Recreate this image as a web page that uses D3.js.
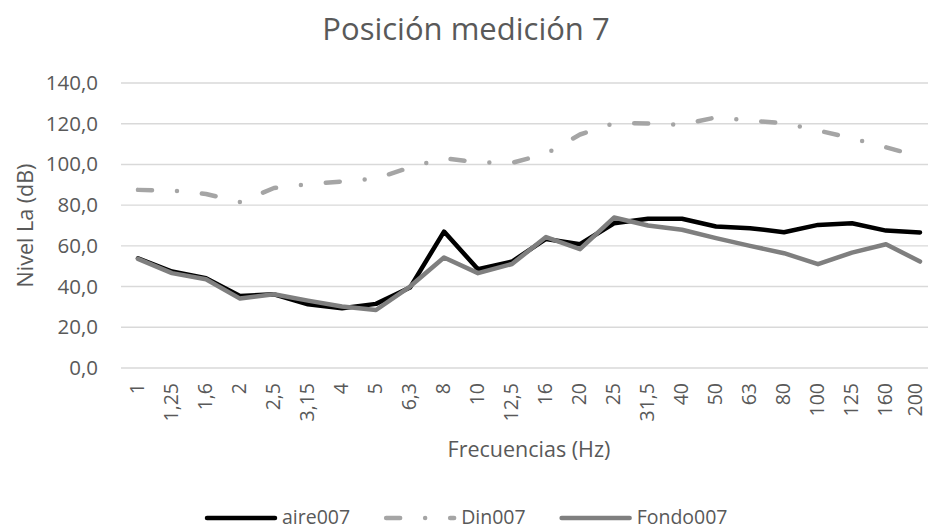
<!DOCTYPE html>
<html>
<head>
<meta charset="utf-8">
<script src="https://cdn.jsdelivr.net/npm/d3@7"></script>
<style>
  body { margin: 0; background: #fff; }
  svg { display: block; font-family: 'Open Sans', sans-serif; }
</style>
</head>
<body>
<svg id="chart" width="928" height="529"></svg>
<script>
// frequency bands (Hz), as labelled on the chart
const frequencies = ['1', '1,25', '1,6', '2', '2,5', '3,15', '4', '5', '6,3', '8', '10', '12,5', '16', '20', '25', '31,5', '40', '50', '63', '80', '100', '125', '160', '200'];

const aire007 = [53.9, 47.4, 44.1, 35.4, 36.2, 31.3, 29.3, 31.5, 39.5, 67.0, 48.5, 52.3, 63.4, 60.8, 71.1, 73.3, 73.3, 69.5, 68.7, 66.7, 70.3, 71.1, 67.5, 66.6];
const din007 = [87.5, 87.2, 85.5, 81.5, 88.4, 90.3, 91.6, 93.1, 98.5, 103.1, 101.0, 100.8, 105.2, 114.7, 120.3, 120.1, 119.5, 123.1, 121.5, 120.3, 116.7, 112.8, 108.4, 103.9];
const fondo007 = [53.6, 46.6, 43.6, 34.1, 36.2, 33.1, 30.2, 28.5, 40.0, 54.3, 46.6, 51.1, 64.3, 58.4, 73.9, 70.0, 67.9, 63.8, 60.0, 56.4, 51.0, 56.7, 60.8, 52.3];

const yTicks = [0, 20, 40, 60, 80, 100, 120, 140];

const series = [
  { name: 'aire007', values: aire007, color: '#000000', dash: null },
  { name: 'Din007', values: din007, color: '#a5a5a5', dash: '14 25 0 25' },
  { name: 'Fondo007', values: fondo007, color: '#7f7f7f', dash: null },
];

const textColor = '#595959';
const plot = { left: 121, right: 937, top: 83, bottom: 368 };

const svg = d3.select('#chart');

const x = d3.scaleBand().domain(frequencies).range([plot.left, plot.right]);
const y = d3.scaleLinear().domain([0, 140]).range([plot.bottom, plot.top]);

const fmt = (v) => v.toFixed(1).replace('.', ',');

// gridlines
svg
  .append('g')
  .selectAll('line')
  .data(yTicks)
  .join('line')
  .attr('x1', plot.left)
  .attr('x2', plot.right)
  .attr('y1', (d) => y(d))
  .attr('y2', (d) => y(d))
  .attr('stroke', '#d9d9d9')
  .attr('stroke-width', 1.4);

// y axis labels
const yAxis = svg
  .append('g')
  .attr('transform', `translate(${plot.left - 23},0)`)
  .call(d3.axisLeft(y).tickValues(yTicks).tickFormat(fmt).tickSize(0).tickPadding(0));
yAxis.select('.domain').remove();
yAxis
  .selectAll('text')
  .attr('fill', textColor)
  .attr('font-size', 20.5)
  .attr('font-family', "'Open Sans', sans-serif");

// x axis labels (rotated); the last one is nudged so it stays inside the page
const xAxis = svg
  .append('g')
  .attr('transform', `translate(0,${plot.bottom})`)
  .call(d3.axisBottom(x).tickSize(0).tickPadding(0));
xAxis.select('.domain').remove();
xAxis
  .selectAll('text')
  .attr('fill', textColor)
  .attr('font-size', 19.5)
  .attr('font-family', "'Open Sans', sans-serif")
  .attr('text-anchor', 'end')
  .attr('transform', 'rotate(-90)')
  .attr('x', -15)
  .attr('y', (d, i) => (i === frequencies.length - 1 ? -4 : 0))
  .attr('dy', '0.33em');

// lines
const line = d3
  .line()
  .x((d, i) => x(frequencies[i]) + x.bandwidth() / 2)
  .y((d) => y(d));

svg
  .append('g')
  .selectAll('path')
  .data(series)
  .join('path')
  .attr('d', (d) => line(d.values))
  .attr('fill', 'none')
  .attr('stroke', (d) => d.color)
  .attr('stroke-width', 4.5)
  .attr('stroke-linejoin', 'round')
  .attr('stroke-linecap', 'round')
  .attr('stroke-dasharray', (d) => d.dash);

// titles
svg
  .append('text')
  .attr('x', 466)
  .attr('y', 40)
  .attr('text-anchor', 'middle')
  .attr('font-size', 31)
  .attr('fill', textColor)
  .text('Posición medición 7');

svg
  .append('text')
  .attr('x', (plot.left + plot.right) / 2)
  .attr('y', 457)
  .attr('text-anchor', 'middle')
  .attr('font-size', 21.5)
  .attr('fill', textColor)
  .text('Frecuencias (Hz)');

svg
  .append('text')
  .attr('transform', `translate(33,${(plot.top + plot.bottom) / 2}) rotate(-90)`)
  .attr('text-anchor', 'middle')
  .attr('font-size', 21.5)
  .attr('fill', textColor)
  .text('Nivel La (dB)');

// legend
const legend = svg.append('g').attr('transform', 'translate(205,518)');
const lineLen = 72;
let cursor = 0;
series.forEach((s) => {
  const item = legend.append('g').attr('transform', `translate(${cursor},0)`);
  item
    .append('line')
    .attr('x1', 2)
    .attr('x2', lineLen - 2)
    .attr('stroke', s.color)
    .attr('stroke-width', 4.5)
    .attr('stroke-linecap', 'round')
    .attr('stroke-dasharray', s.dash);
  const t = item
    .append('text')
    .attr('x', lineLen + 5)
    .attr('y', 6)
    .attr('font-size', 19.5)
    .attr('fill', textColor)
    .text(s.name);
  cursor += lineLen + 5 + t.node().getComputedTextLength() + 34;
});
</script>
</body>
</html>
